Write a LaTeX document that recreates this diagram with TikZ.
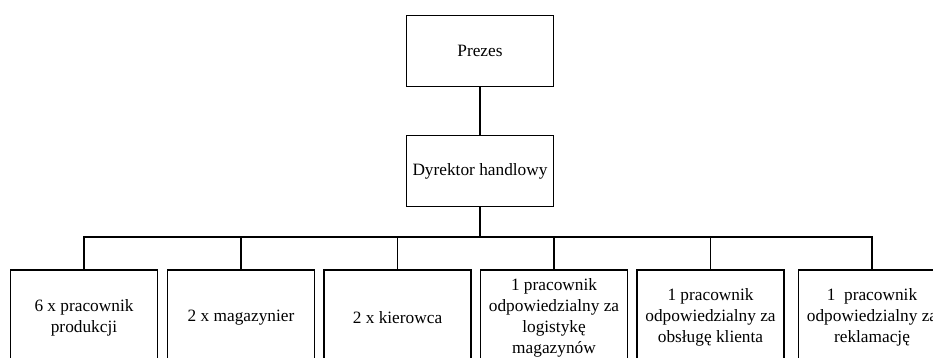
\documentclass[tikz,border=0pt]{standalone}
\usepackage{fontspec}
\setmainfont{Liberation Serif}
\usepackage{tikz}
\tikzset{
    org-box/.style = {draw=black, fill=white, line width=1.6pt, rectangle, align=center, minimum width=147pt, inner sep=2pt, font=\fontsize{17.3}{21}\selectfont},
    top-box/.style = {org-box, minimum height=71pt},
    staff-box/.style = {org-box, minimum height=95pt},
    org-line/.style = {draw=black, line width=1.6pt},
}

\begin{document}
\begin{tikzpicture}[x=1pt, y=-1pt]
\clip (0,0) rectangle (933,358);
\fill[white] (0,0) rectangle (933,358);

\node[top-box] (prezes) at (480,51) {Prezes};
\node[top-box] (dyrektor) at (480,171) {Dyrektor handlowy};
\coordinate (bus) at (480,237);

\node[staff-box] (produkcja) at (84,317.5) {6 x pracownik\\produkcji};
\node[staff-box] (magazyn) at (241,317.5) {2 x magazynier};
\node[staff-box] (kierowca) at (397.5,317.5) {2 x kierowca};
\node[staff-box] (logistyka) at (554,317.5) {1 pracownik\\odpowiedzialny za\\logistykę\\magazynów};
\node[staff-box] (klient) at (710.5,317.5) {1 pracownik\\odpowiedzialny za\\obsługę klienta};
\node[staff-box] (reklamacje) at (872,317.5) {1\ \ pracownik\\odpowiedzialny za\\reklamację};

\draw[org-line] (prezes) -- (dyrektor);
\draw[org-line] (dyrektor) -- (bus);
\draw[org-line] (bus) -| (produkcja);
\draw[org-line] (bus) -| (magazyn);
\draw[org-line] (bus) -| (kierowca);
\draw[org-line] (bus) -| (logistyka);
\draw[org-line] (bus) -| (klient);
\draw[org-line] (bus) -| (reklamacje);
\end{tikzpicture}
\end{document}
